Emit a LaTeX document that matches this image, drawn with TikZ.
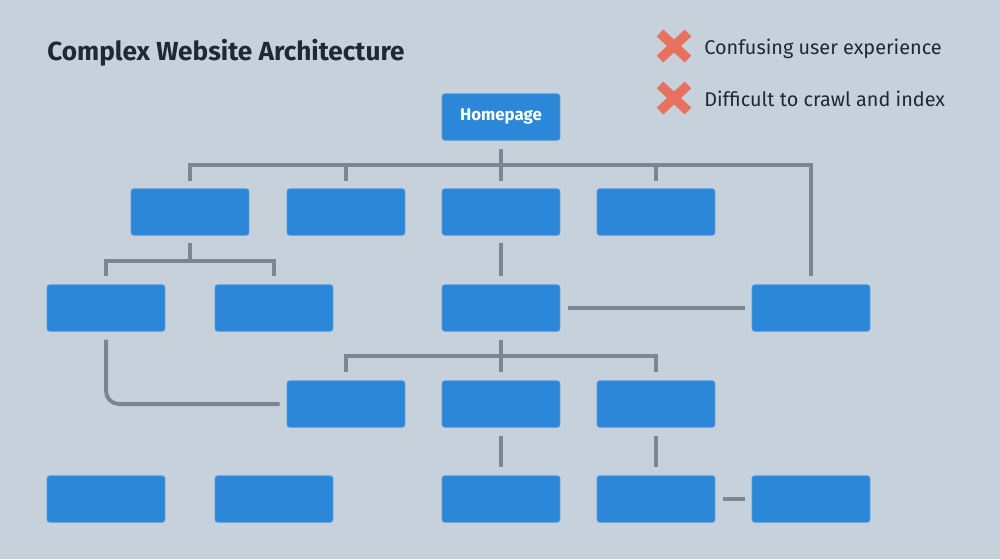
\documentclass[tikz,border=0pt]{standalone}
\usepackage{fontspec}
\setmainfont{Fira Sans}
\usetikzlibrary{calc}
\definecolor{bgcol}{RGB}{198,209,220}
\definecolor{boxblue}{RGB}{44,135,216}
\definecolor{boxedge}{RGB}{84,160,226}
\definecolor{linkgray}{RGB}{122,135,146}
\definecolor{inkdark}{RGB}{30,41,55}
\definecolor{crossred}{RGB}{232,112,94}

\begin{document}
\begin{tikzpicture}[
	x=0.02cm, y=-0.02cm,
	page/.style={fill=boxblue, draw=boxedge, line width=0.4pt, rounded corners=1.5pt,
		minimum width=2.36cm, minimum height=0.93cm, inner sep=0pt,
		text=white, font=\fontsize{9.6}{10}\selectfont\bfseries},
	link/.style={draw=linkgray, line width=0.08cm},
	cross/.style={draw=crossred, line width=0.19cm},
	legend/.style={anchor=base west, inner sep=0pt, text=inkdark,
		font=\fontsize{11.3}{12}\selectfont}
	]
	
	% background / bounding box
	\fill[bgcol] (0,0) rectangle (1000,559);
	\useasboundingbox (0,0) rectangle (1000,559);
	
	% --- title and legend ---
	\node[anchor=base west, inner sep=0pt, text=inkdark,
		font=\fontsize{14.9}{16}\selectfont\bfseries] (title) at (47,60) {Complex Website Architecture};
	
	\coordinate (x1) at (674,46);
	\coordinate (x2) at (674,98);
	\draw[cross] ($(x1)+(-14,-13)$) -- ($(x1)+(14,13)$) ($(x1)+(14,-13)$) -- ($(x1)+(-14,13)$);
	\draw[cross] ($(x2)+(-14,-13)$) -- ($(x2)+(14,13)$) ($(x2)+(14,-13)$) -- ($(x2)+(-14,13)$);
	\node[legend] (note1) at (704,54) {Confusing user experience};
	\node[legend] (note2) at (704,106) {Difficult to crawl and index};
	
	% --- pages ---
	\node[page] (home) at (501,117) {\raisebox{-1pt}{Homepage}};
	
	% level 1
	\node[page] (cat1) at (190,212) {};
	\node[page] (cat2) at (346,212) {};
	\node[page] (cat3) at (501,212) {};
	\node[page] (cat4) at (656,212) {};
	
	% level 2
	\node[page] (sub1) at (106,308) {};
	\node[page] (sub2) at (274,308) {};
	\node[page] (sub3) at (501,308) {};
	\node[page] (sub4) at (811,308) {};
	
	% level 3
	\node[page] (pg1) at (346,404) {};
	\node[page] (pg2) at (501,404) {};
	\node[page] (pg3) at (656,404) {};
	
	% level 4
	\node[page] (leaf1) at (106,499) {};
	\node[page] (leaf2) at (274,499) {};
	\node[page] (leaf3) at (501,499) {};
	\node[page] (leaf4) at (656,499) {};
	\node[page] (leaf5) at (811,499) {};
	
	% --- links ---
	\coordinate (bus1) at (0,165);
	\coordinate (bus2) at (0,261);
	\coordinate (bus3) at (0,356);
	
	% homepage to level 1 (and sub4)
	\draw[link] ([shift={(0,8)}]home.south) -- (home.south |- bus1);
	\draw[link] ([shift={(0,-7)}]cat1.north) |- (home.south |- bus1) -| ([shift={(0,-8)}]sub4.north);
	\draw[link] (cat2.north |- bus1) -- ([shift={(0,-7)}]cat2.north);
	\draw[link] (cat3.north |- bus1) -- ([shift={(0,-7)}]cat3.north);
	\draw[link] (cat4.north |- bus1) -- ([shift={(0,-7)}]cat4.north);
	
	% cat1 split
	\draw[link] ([shift={(0,7)}]cat1.south) -- (cat1.south |- bus2);
	\draw[link] ([shift={(0,-8)}]sub1.north) |- (cat1.south |- bus2) -| ([shift={(0,-8)}]sub2.north);
	
	% cat3 down, sub3 across
	\draw[link] ([shift={(0,7)}]cat3.south) -- ([shift={(0,-8)}]sub3.north);
	\draw[link] ([shift={(8,0)}]sub3.east) -- ([shift={(-7,0)}]sub4.west);
	
	% sub3 split
	\draw[link] ([shift={(0,8)}]sub3.south) -- (sub3.south |- bus3);
	\draw[link] ([shift={(0,-8)}]pg1.north) |- (sub3.south |- bus3) -| ([shift={(0,-8)}]pg3.north);
	\draw[link] (pg2.north |- bus3) -- ([shift={(0,-8)}]pg2.north);
	
	% sub1 round to pg1
	\draw[link, rounded corners=0.26cm] ([shift={(0,8)}]sub1.south) |- ([shift={(-7,0)}]pg1.west);
	
	% level 3 to level 4
	\draw[link] ([shift={(0,8)}]pg2.south) -- ([shift={(0,-8)}]leaf3.north);
	\draw[link] ([shift={(0,8)}]pg3.south) -- ([shift={(0,-8)}]leaf4.north);
	\draw[link] ([shift={(8,0)}]leaf4.east) -- ([shift={(-7,0)}]leaf5.west);
	
\end{tikzpicture}
\end{document}
